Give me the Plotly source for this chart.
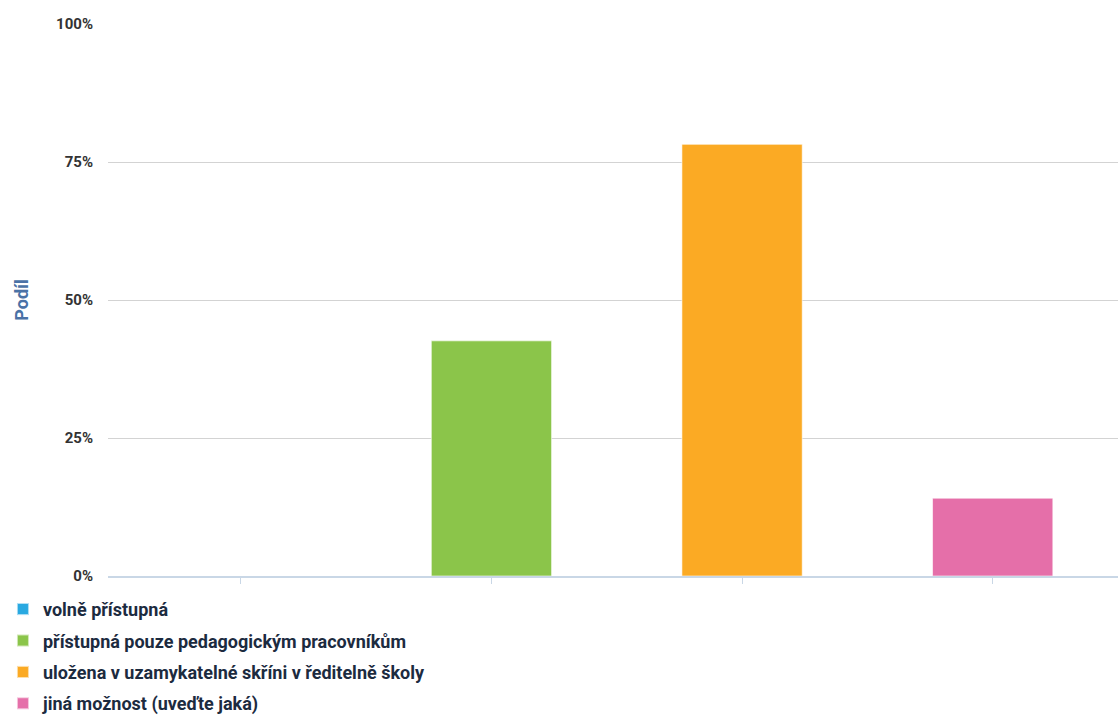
import plotly.graph_objects as go

# Responses and their share (%)
categories = [
    "volně přístupná",
    "přístupná pouze pedagogickým pracovníkům",
    "uložena v uzamykatelné skříni v ředitelně školy",
    "jiná možnost (uveďte jaká)",
]
shares = [0.0, 42.6, 78.2, 14.1]
colors = ["#29a9e1", "#8bc54a", "#fbaa24", "#e56fa9"]
y_ticks = [0, 25, 50, 75, 100]

fig = go.Figure()
for i, (cat, val, col) in enumerate(zip(categories, shares, colors)):
    fig.add_trace(go.Bar(
        x=[i], y=[val], name=cat,
        legendgroup=f"g{i}",
        width=0.48,
        marker=dict(color=col, line=dict(color="rgba(255,255,255,0.6)", width=1)),
        hovertemplate="%{y:.1f}%<extra>" + cat + "</extra>",
    ))

fig.update_layout(
    width=1118, height=716,
    margin=dict(l=108, r=0, t=24, b=140, autoexpand=False),
    plot_bgcolor="white", paper_bgcolor="white",
    barmode="overlay",
    font=dict(family="Roboto, Lato, sans-serif", color="#222"),
    showlegend=True,
    legend=dict(
        orientation="v", x=-0.104, xanchor="left", y=-0.027, yanchor="top",
        font=dict(size=18, color="#1c2b3f", family="Roboto, sans-serif", weight="bold"),
        itemsizing="constant", tracegroupgap=5, traceorder="grouped",
        itemclick=False,
    ),
    xaxis=dict(
        range=[-0.53, 3.5],
        tickmode="array", tickvals=[0, 1, 2, 3],
        showticklabels=False,
        ticks="outside", ticklen=6, tickcolor="#c9d7e6", tickwidth=1,
        showline=True, linecolor="#c9d7e6", linewidth=2,
        showgrid=False, zeroline=False, fixedrange=True, automargin=False,
    ),
    yaxis=dict(
        range=[0, 100],
        tickmode="array", tickvals=y_ticks,
        ticktext=[f"{v}%" for v in y_ticks],
        tickfont=dict(size=15, color="#333", weight="bold"),
        ticklabelstandoff=14,
        showgrid=True, gridcolor="#d3d3d3", gridwidth=1,
        zeroline=False, showline=False, automargin=False,
        title=dict(text="Podíl", standoff=22,
                   font=dict(size=18, color="#4a72a6", weight="bold")),
        fixedrange=True,
    ),
)

fig.write_html("out.html")
